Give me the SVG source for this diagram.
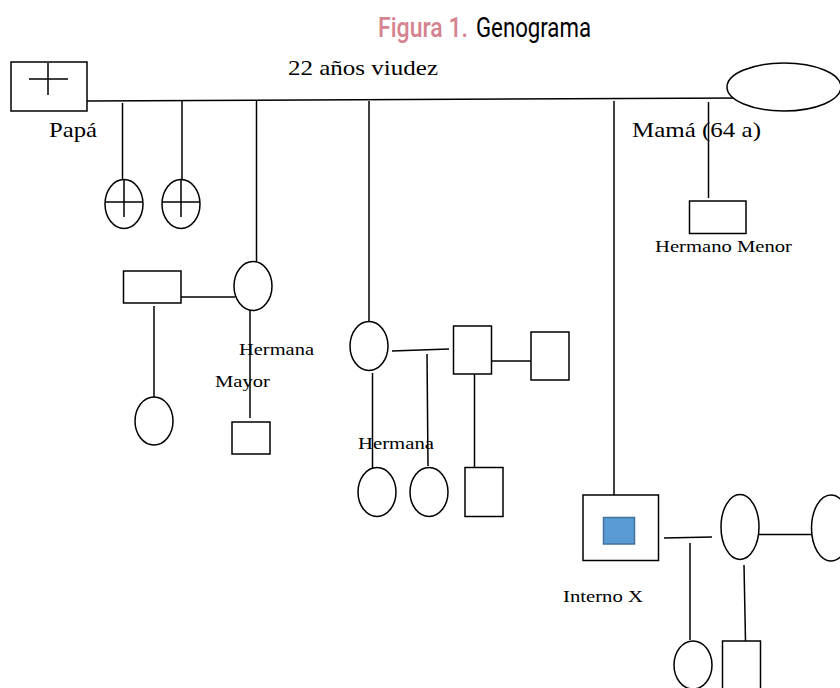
<svg xmlns="http://www.w3.org/2000/svg" width="840" height="688" viewBox="0 0 840 688">
<style>
.s{fill:#fff;stroke:#000;stroke-width:1.5}
.l{stroke:#000;stroke-width:1.5;fill:none}
.t{font-family:"Liberation Serif","Times New Roman",serif;fill:#000}
.ti{font-family:Roboto,"Liberation Sans",sans-serif;font-size:27px}
</style>
<rect width="840" height="688" fill="#fff"/>
<text class="ti" x="378" y="37" textLength="90" lengthAdjust="spacingAndGlyphs" fill="#d4838f" font-weight="500">Figura 1.</text>
<text class="ti" x="476" y="37" textLength="115" lengthAdjust="spacingAndGlyphs" fill="#000">Genograma</text>

<g id="connectors">
<path class="l" d="M87 101 L742 98"/>
<path class="l" d="M122.5 103 V180"/>
<path class="l" d="M182 100 V180"/>
<path class="l" d="M256.5 101 V262"/>
<path class="l" d="M369 101 V322"/>
<path class="l" d="M614 101 V495"/>
<path class="l" d="M708.5 102 V198"/>
<path class="l" d="M181 297 H235"/>
<path class="l" d="M154 306 V397"/>
<path class="l" d="M250 307 V418"/>
<path class="l" d="M392 351 L449 349"/>
<path class="l" d="M492 361 H531"/>
<path class="l" d="M474.5 374 V467"/>
<path class="l" d="M372.5 373 V468"/>
<path class="l" d="M427 354 L428 466"/>
<path class="l" d="M664 538 L712 537"/>
<path class="l" d="M690 543 V640"/>
<path class="l" d="M754 534.5 H812"/>
<path class="l" d="M744 565 L745.5 641"/>
</g>

<g id="papa">
<rect class="s" x="11" y="62" width="76" height="49"/>
<path class="l" d="M29 79 H68 M48 63 V95"/>
<text class="t" x="49" y="137" font-size="21" textLength="48" lengthAdjust="spacingAndGlyphs">Papá</text>
</g>
<g id="mama">
<ellipse class="s" cx="784" cy="87" rx="57" ry="24"/>
<text class="t" x="632" y="137" font-size="21" textLength="129" lengthAdjust="spacingAndGlyphs">Mamá (64 a)</text>
</g>
<text class="t" x="288" y="75" font-size="21" textLength="150" lengthAdjust="spacingAndGlyphs">22 años viudez</text>

<g id="hijo-fallecido-1">
<ellipse class="s" cx="124" cy="204" rx="19" ry="24.5"/>
<path class="l" d="M105 202 H143 M124 180 V217"/>
</g>
<g id="hijo-fallecido-2">
<ellipse class="s" cx="181" cy="204" rx="19" ry="24.5"/>
<path class="l" d="M162 202 H200 M181 180 V217"/>
</g>

<g id="hermana-mayor">
<ellipse class="s" cx="253" cy="286" rx="19" ry="24.5"/>
<text class="t" x="239" y="355" font-size="17" textLength="75" lengthAdjust="spacingAndGlyphs">Hermana</text>
<text class="t" x="215" y="387" font-size="17" textLength="55" lengthAdjust="spacingAndGlyphs">Mayor</text>
</g>
<g id="esposo-hermana-mayor">
<rect class="s" x="123.5" y="271" width="57.5" height="32"/>
</g>
<g id="hija-hm"><ellipse class="s" cx="154" cy="421" rx="19" ry="24"/></g>
<g id="hijo-hm"><rect class="s" x="232" y="422" width="38" height="32"/></g>

<g id="hermana">
<ellipse class="s" cx="369" cy="346" rx="19" ry="24.5"/>
<text class="t" x="358" y="449" font-size="17" textLength="76" lengthAdjust="spacingAndGlyphs">Hermana</text>
</g>
<g id="pareja-hermana"><rect class="s" x="453.5" y="326" width="38" height="48"/></g>
<g id="pareja-2"><rect class="s" x="531" y="332" width="38" height="48"/></g>
<g id="hija-h1"><ellipse class="s" cx="377" cy="492" rx="19" ry="24.5"/></g>
<g id="hija-h2"><ellipse class="s" cx="429" cy="492" rx="19" ry="24.5"/></g>
<g id="hijo-h3"><rect class="s" x="465" y="467.5" width="38" height="49"/></g>

<g id="hermano-menor">
<rect class="s" x="689.5" y="201" width="56.5" height="32.5"/>
<text class="t" x="655" y="252" font-size="17" textLength="137" lengthAdjust="spacingAndGlyphs">Hermano Menor</text>
</g>

<g id="interno-x">
<rect class="s" x="583" y="495" width="75.5" height="65.5"/>
<rect x="603.5" y="517.5" width="31" height="26.5" fill="#5b9bd5" stroke="#41719c" stroke-width="1.5"/>
<text class="t" x="563" y="602" font-size="17" textLength="80" lengthAdjust="spacingAndGlyphs">Interno X</text>
</g>
<g id="pareja-interno"><ellipse class="s" cx="740" cy="527" rx="19" ry="32.5"/></g>
<g id="pareja-3"><ellipse class="s" cx="831" cy="528" rx="19.5" ry="33"/></g>
<g id="hija-ix"><ellipse class="s" cx="693" cy="665" rx="19" ry="24"/></g>
<g id="hijo-ix"><rect class="s" x="722.5" y="641" width="38" height="60"/></g>
</svg>
